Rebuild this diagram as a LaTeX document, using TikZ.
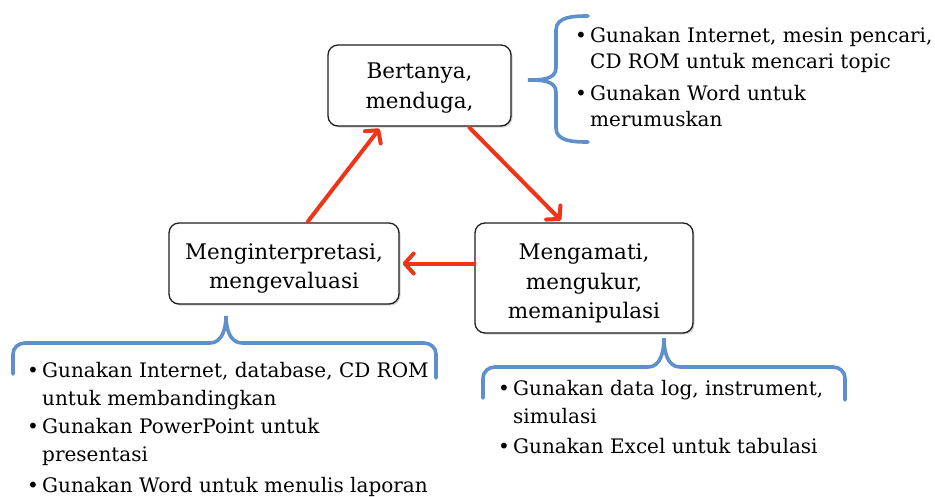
\documentclass[tikz,border=0pt]{standalone}
\usepackage{fontspec}
\setmainfont{DejaVu Serif}
\usetikzlibrary{arrows.meta,shadows}
\definecolor{arrred}{RGB}{240,52,24}
\definecolor{braceblue}{RGB}{96,144,204}
\definecolor{boxline}{RGB}{30,30,30}
\newcommand{\topfix}[1]{\rule{0pt}{#1}}
\tikzset{
  stepbox/.style={draw=boxline,line width=1.3pt,rounded corners=10pt,fill=white,
    align=center,inner sep=0pt,font=\fontsize{21.5}{29.5}\selectfont,
    drop shadow={opacity=0.35,shadow xshift=1.5pt,shadow yshift=-1.5pt}},
  arr/.style={draw=arrred,line width=4pt,line cap=round,line join=round,
    -{Straight Barb[length=9pt,width=20pt,line cap=round,line join=round]}},
  brace/.style={draw=braceblue,line width=3.6pt,line cap=round},
  item/.style={anchor=north west,inner sep=0pt,align=left,font=\fontsize{20}{28}\selectfont}
}
\begin{document}
\begin{tikzpicture}[x=1pt,y=-1pt]
\useasboundingbox[fill=white] (0,0) rectangle (935,496);
% boxes
\node[stepbox,minimum width=183pt,minimum height=81pt] (ber) at (419.5,85.5) {\topfix{21pt}Bertanya,\\menduga,};
\node[stepbox,minimum width=230pt,minimum height=81pt] (men) at (284,263.5) {\topfix{26pt}Menginterpretasi,\\mengevaluasi};
\node[stepbox,minimum width=218pt,minimum height=110pt] (mam) at (584,278) {\topfix{27pt}Mengamati,\\mengukur,\\memanipulasi};
% arrows
\draw[arr] ([xshift=24pt,yshift=1pt]men.north) -- ([xshift=-40pt,yshift=-2pt]ber.south);
\draw[arr] ([xshift=50pt,yshift=-1pt]ber.south) -- ([xshift=-23pt,yshift=2pt]mam.north);
\draw[arr] (mam.west |- men.east) -- ([xshift=3pt]men.east);
% braces
\draw[brace] (588,16) to[out=180,in=90] (556,30) -- (556,68) to[out=-90,in=0] (528,80)
  to[out=0,in=90] (556,92) -- (556,128) to[out=-90,in=180] (588,142);
\draw[brace] (13,374) -- (13,354) to[out=90,in=180] (25,343) -- (210,343) to[out=0,in=-90] (226,316)
  to[out=-90,in=180] (242,343) -- (424,343) to[out=0,in=90] (436,354) -- (436,378);
\draw[brace] (483,398) -- (483,378) to[out=90,in=180] (495,367) -- (648,367) to[out=0,in=-90] (664,338)
  to[out=-90,in=180] (680,367) -- (833,367) to[out=0,in=90] (845,378) -- (845,400);
% lists
\node[item,font=\fontsize{20}{26}\selectfont] (t1) at (590,27) {\llap{•\,}Gunakan Internet, mesin pencari,\\CD ROM untuk mencari topic};
\node[item,font=\fontsize{20}{26}\selectfont] (t2) at (590,85) {\llap{•\,}Gunakan Word untuk\\merumuskan};
\node[item] (l1) at (42,362) {\llap{•\,}Gunakan Internet, database, CD ROM\\untuk membandingkan};
\node[item] (l2) at (42,418) {\llap{•\,}Gunakan PowerPoint untuk\\presentasi};
\node[item] (l3) at (42,477) {\llap{•\,}Gunakan Word untuk menulis laporan};
\node[item] (r1) at (513,380) {\llap{•\,}Gunakan data log, instrument,\\simulasi};
\node[item] (r2) at (513,438) {\llap{•\,}Gunakan Excel untuk tabulasi};
\end{tikzpicture}
\end{document}
